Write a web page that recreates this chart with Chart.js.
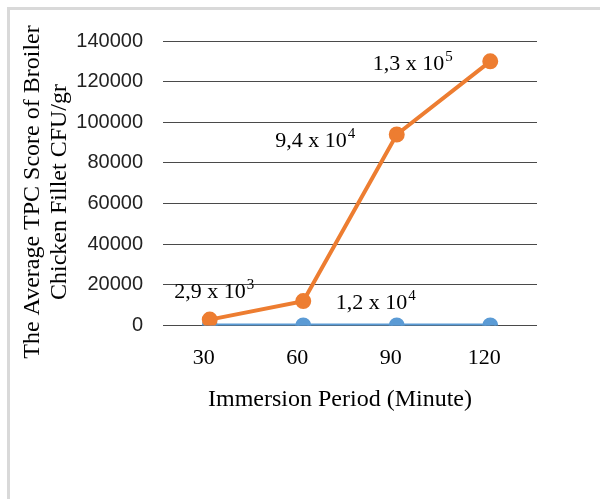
<!DOCTYPE html>
<html>
<head>
<meta charset="utf-8">
<script src="https://cdn.jsdelivr.net/npm/chart.js@4/dist/chart.umd.min.js"></script>
<style>
  html, body { margin: 0; padding: 0; background: #fff; width: 600px; height: 499px; overflow: hidden; }
  #frame { position: absolute; left: 7px; top: 7px; width: 700px; height: 600px;
           border: 3px solid #d9d9d9; box-sizing: border-box; }
  #wrap { position: absolute; left: 0; top: 0; width: 600px; height: 499px; }
</style>
</head>
<body>
<div id="frame"></div>
<div id="wrap"><canvas id="c" width="600" height="499"></canvas></div>
<script>
// Immersion period categories (minutes)
const minutes = ['30', '60', '90', '120'];
// Average TPC, CFU/gr
const tpcOrange = [2900, 12000, 94000, 130000];
const tpcBlue = [0, 0, 0, 0];
// Value axis ticks
const yTickValues = [0, 20000, 40000, 60000, 80000, 100000, 120000, 140000];
// Axis titles
const yTitleLines = ['The Average TPC Score of Broiler', 'Chicken Fillet CFU/gr'];
const xTitle = 'Immersion Period (Minute)';

const ORANGE = '#ED7D31';
const BLUE = '#5B9BD5';
const SERIF = '"Liberation Serif", "Times New Roman", serif';

// where each value label sits relative to its point (dx to label centre, dy to baseline)
const labelShift = [[4, -22], [72, 8], [-82, 13], [-78, 9]];

function sciParts(v) {
  const e = Math.floor(Math.log10(v));
  const m = (v / Math.pow(10, e)).toFixed(1).replace('.', ',');
  return [m + ' x 10', String(e)];
}

const valueLabels = {
  id: 'valueLabels',
  afterDatasetsDraw(chart) {
    const ctx = chart.ctx;
    const meta = chart.getDatasetMeta(0);
    const data = chart.data.datasets[0].data;
    ctx.save();
    ctx.fillStyle = '#000';
    ctx.textBaseline = 'alphabetic';
    ctx.textAlign = 'left';
    meta.data.forEach((pt, i) => {
      const [base, exp] = sciParts(data[i]);
      ctx.font = '22px ' + SERIF;
      const wb = ctx.measureText(base).width;
      ctx.font = '15px ' + SERIF;
      const we = ctx.measureText(exp).width;
      const x0 = pt.x + labelShift[i][0] - (wb + we) / 2;
      const y0 = pt.y + labelShift[i][1];
      ctx.font = '22px ' + SERIF;
      ctx.fillText(base, x0, y0);
      ctx.font = '15px ' + SERIF;
      ctx.fillText(exp, x0 + wb + 1, y0 - 9);
    });
    ctx.restore();
  }
};

const axisTitles = {
  id: 'axisTitles',
  afterDraw(chart) {
    const ctx = chart.ctx;
    ctx.save();
    ctx.fillStyle = '#000';
    ctx.font = '24px ' + SERIF;
    ctx.textAlign = 'center';
    ctx.textBaseline = 'alphabetic';
    const yc = 192;
    const baseX = [39, 66];
    yTitleLines.forEach((line, i) => {
      ctx.save();
      ctx.translate(baseX[i], yc);
      ctx.rotate(-Math.PI / 2);
      ctx.fillText(line, 0, 0);
      ctx.restore();
    });
    ctx.fillText(xTitle, 340, 406);
    ctx.restore();
  }
};

new Chart(document.getElementById('c'), {
  type: 'line',
  data: {
    labels: minutes,
    datasets: [
      {
        data: tpcOrange,
        borderColor: ORANGE,
        backgroundColor: ORANGE,
        pointBackgroundColor: ORANGE,
        pointBorderColor: ORANGE,
        borderWidth: 4,
        pointRadius: 6,
        tension: 0
      },
      {
        data: tpcBlue,
        borderColor: BLUE,
        backgroundColor: BLUE,
        pointBackgroundColor: BLUE,
        pointBorderColor: BLUE,
        borderWidth: 4,
        pointRadius: 6,
        tension: 0
      }
    ]
  },
  options: {
    responsive: false,
    animation: false,
    devicePixelRatio: 1,
    layout: { padding: { left: 0, top: 41, right: 63, bottom: 0 } },
    plugins: { legend: { display: false }, tooltip: { enabled: false } },
    scales: {
      x: {
        offset: true,
        grid: { display: false, drawTicks: false },
        border: { display: false },
        ticks: {
          padding: 20,
          labelOffset: -6,
          color: '#000',
          font: { family: SERIF, size: 22 }
        },
        afterFit(scale) { scale.height = 173.5; }
      },
      y: {
        min: 0,
        max: 140000,
        afterBuildTicks(scale) { scale.ticks = yTickValues.map(v => ({ value: v })); },
        grid: { color: '#4a4a4a', lineWidth: 1, drawTicks: false },
        border: { display: false },
        ticks: {
          padding: 20,
          color: '#222',
          font: { family: '"Liberation Sans", Arial, sans-serif', size: 20 },
          callback: v => String(v)
        },
        afterFit(scale) { scale.width = 163; }
      }
    }
  },
  plugins: [valueLabels, axisTitles]
});
</script>
</body>
</html>
